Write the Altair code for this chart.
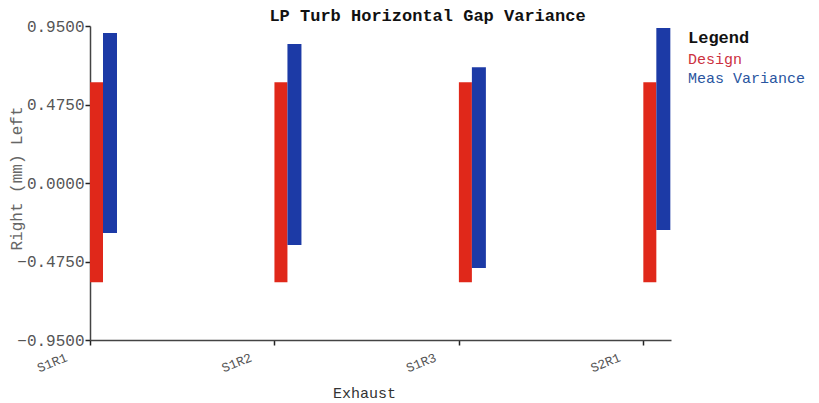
import altair as alt
import pandas as pd

categories = ["S1R1", "S1R2", "S1R3", "S2R1"]
design_left = [0.61, 0.61, 0.61, 0.61]
design_right = [-0.60, -0.60, -0.60, -0.60]
meas_left = [0.907, 0.841, 0.70, 0.938]
meas_right = [-0.302, -0.375, -0.514, -0.284]
series = ["Design", "Meas Variance"]
colors = ["#e0281a", "#1c3aa6"]
y_ticks = [-0.95, -0.475, 0.0, 0.475, 0.95]

idx = list(range(len(categories)))
design_df = pd.DataFrame({"idx": idx, "cat": categories, "top": design_left,
                          "bottom": design_right, "series": series[0]})
meas_df = pd.DataFrame({"idx": idx, "cat": categories, "top": meas_left,
                        "bottom": meas_right, "series": series[1]})

FONT = "Liberation Mono"
label_expr = "[" + ",".join("'%s'" % c for c in categories) + "][datum.value]"

x_enc = alt.X("idx:Q",
              scale=alt.Scale(domain=[0, 3.15], nice=False, zero=False, padding=0),
              axis=alt.Axis(values=idx, labelExpr=label_expr, title="Exhaust",
                            labelAngle=-22, labelAlign="right", labelBaseline="top",
                            labelOffset=-26, labelPadding=6, grid=False,
                            domainColor="#444", domainWidth=1.5, tickColor="#222",
                            tickSize=5, tickWidth=1.5, labelFont=FONT, labelFontSize=13,
                            labelColor="#555", titleFont=FONT, titleFontSize=15,
                            titleFontWeight="normal", titleColor="#333",
                            titleX=274, titleY=52, titleAlign="center",
                            titleBaseline="middle"))
y_enc = alt.Y("top:Q",
              scale=alt.Scale(domain=[-0.95, 0.95], nice=False, zero=False, padding=0),
              axis=alt.Axis(values=y_ticks, format=".4f", title="Right (mm) Left",
                            grid=False, domainColor="#444", domainWidth=1.5,
                            tickColor="#222", tickSize=5, tickWidth=1.5,
                            labelFont=FONT, labelFontSize=16, labelColor="#555",
                            labelPadding=1,
                            titleFont=FONT, titleFontSize=16, titleFontWeight="normal",
                            titleColor="#666", titleAngle=-90, titleX=-74, titleY=152,
                            titleAlign="center", titleBaseline="middle"))
color_enc = alt.Color("series:N",
                      scale=alt.Scale(domain=series, range=colors),
                      legend=alt.Legend(title="Legend", orient="none",
                                        legendX=598, legendY=4,
                                        symbolSize=0, symbolStrokeWidth=0,
                                        symbolOpacity=0,
                                        labelOffset=alt.ExprRef("-15"),
                                        titleFont=FONT, titleFontSize=17,
                                        titleFontWeight="bold", titleColor="#111",
                                        labelFont=FONT, labelFontSize=15,
                                        labelColor=alt.ExprRef(
                                            "datum.label == 'Design' ? '#cc3040' : '#2a55a0'"),
                                        labelLimit=200,
                                        rowPadding=3, titlePadding=4))

red = alt.Chart(design_df).mark_bar(size=13, xOffset=6.5).encode(
    x=x_enc, y=y_enc, y2="bottom:Q", color=color_enc)
blue = alt.Chart(meas_df).mark_bar(size=14, xOffset=20).encode(
    x=x_enc, y=y_enc, y2="bottom:Q", color=color_enc)

chart = alt.layer(red, blue).properties(
    width=581, height=314,
    title=alt.TitleParams("LP Turb Horizontal Gap Variance", font=FONT, fontSize=17,
                          fontWeight="bold", color="#111", anchor="middle", dx=47,
                          dy=13, offset=6),
    autosize=alt.AutoSizeParams(type="none"),
    padding={"left": 82, "top": 18, "right": 140, "bottom": 62},
).configure(background="white").configure_view(stroke=None)

chart.save("out.html", embed_options={"renderer": "svg", "actions": False})
